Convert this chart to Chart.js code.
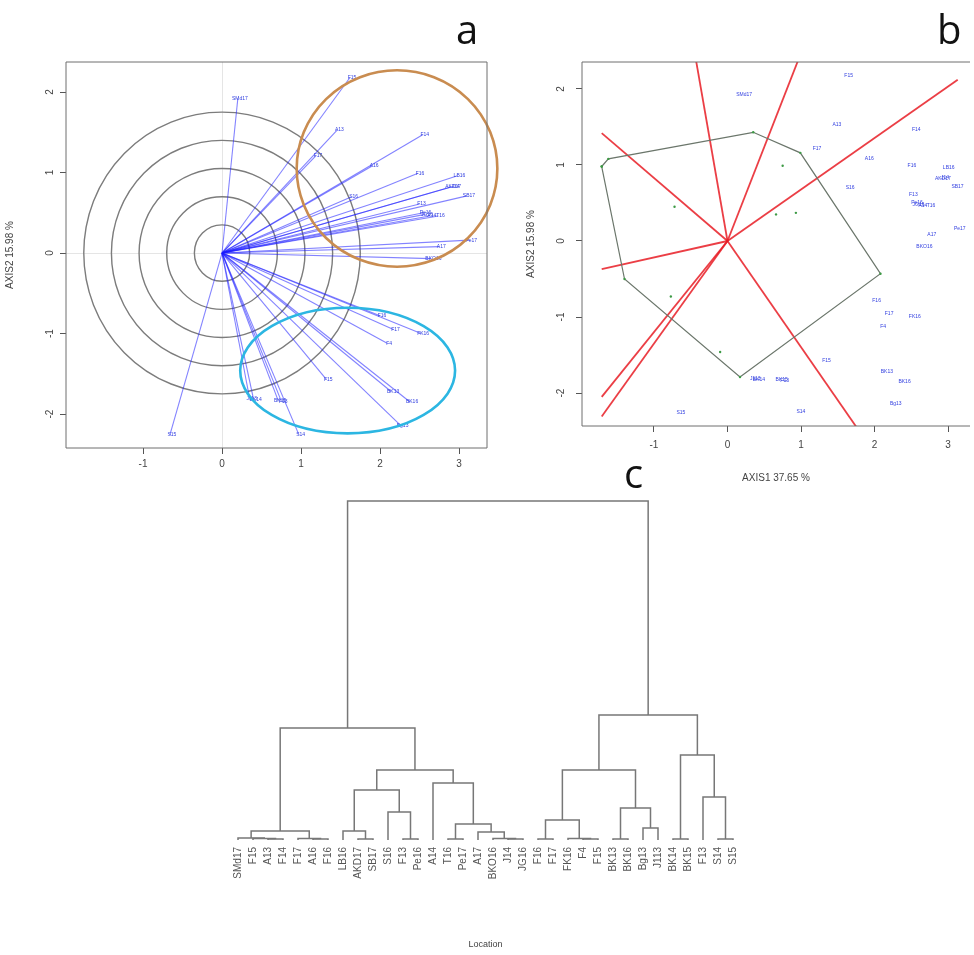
<!DOCTYPE html>
<html>
<head>
<meta charset="utf-8">
<script src="https://cdn.jsdelivr.net/npm/chart.js@4.4.1/dist/chart.umd.min.js"></script>
<style>
body { margin:0; background:#fff; width:974px; height:955px; position:relative; overflow:hidden; font-family:"Liberation Sans", Arial, sans-serif; }
canvas { position:absolute; }
.tag { position:absolute; font-family:"Open Sans", "Liberation Sans", sans-serif; font-size:40px; line-height:1; color:#111; }
</style>
</head>
<body>
<canvas id="pa" width="500" height="440" style="left:0;top:40px"></canvas>
<canvas id="pb" width="454" height="450" style="left:520px;top:40px"></canvas>
<canvas id="pc" width="570" height="465" style="left:200px;top:490px"></canvas>
<div class="tag" style="left:456px;top:9px">a</div>
<div class="tag" style="left:937px;top:9px">b</div>
<div class="tag" style="left:624px;top:453px">c</div>
<script>
// site scores on the two axes (panel a vectors, panel b labels)
const siteNames = ['SMd17','F15','A13','F14','F17','A16','F16','LB16','AKD17','SB17',
                   'S16','F13','Pe16','A14','T16','Pe17','A17','BKO16','J14','JG16',
                   'F16','F17','FK16','F4','F15','BK13','BK16','Bg13','J113','BK14',
                   'BK15','F13','S14','S15']
const axis1 = [0.20, 1.62, 1.46, 2.54, 1.19, 1.90, 2.48, 2.98, 2.90, 3.10,
               1.64, 2.50, 2.55, 2.63, 2.74, 3.13, 2.75, 2.65, 2.93, 2.57,
               2.00, 2.17, 2.52, 2.09, 1.32, 2.14, 2.38, 2.26, 0.35, 0.40,
               0.71, 0.75, 0.97, -0.66]
const axis2 = [1.92, 2.18, 1.53, 1.47, 1.21, 1.08, 0.99, 0.96, 0.82, 0.71,
               0.70, 0.61, 0.50, 0.46, 0.46, 0.16, 0.08, -0.07, 0.83, 0.48,
               -0.78, -0.95, -1.00, -1.12, -1.57, -1.72, -1.85, -2.14, -1.81, -1.82,
               -1.83, -1.84, -2.25, -2.26]

// panel b: variable scores (green), their hull and the red axes
const hullX = [-1.71, -1.62, 0.35, 0.99, 2.08, 0.17, -1.40, -1.71]
const hullY = [0.98, 1.08, 1.43, 1.16, -0.43, -1.79, -0.50, 0.98]
const greenX = [0.75, 0.93, 0.66, -0.77, -0.10, -0.72]
const greenY = [0.99, 0.37, 0.35, -0.73, -1.46, 0.45]
const redX = [-0.45, 1.01, 3.13, -1.71, -1.71, -1.71, -1.71, 1.79]
const redY = [2.50, 2.50, 2.12, 1.42, -0.37, -2.05, -2.31, -2.50]

const ringRadii = [0.35, 0.70, 1.05, 1.40, 1.75]
const ticksA = [-1, 0, 1, 2, 3]
const ticksAy = [-2, -1, 0, 1, 2]

// panel c: hclust style merge table, negative = leaf, positive = row (1-based)
const leafLabels = siteNames
const merges = [
  [-3, -4, 0.01], [-2, 1, 0.015], [-1, 2, 0.02], [-6, -7, 0.01], [-5, 4, 0.015],
  [3, 5, 0.09], [-9, -10, 0.01], [-8, 7, 0.09], [-12, -13, 0.01], [-11, 9, 0.28],
  [8, 10, 0.50], [-15, -16, 0.01], [-19, -20, 0.01], [-18, 13, 0.015], [-17, 14, 0.08],
  [12, 15, 0.16], [-14, 16, 0.57], [11, 17, 0.70], [6, 18, 1.12], [-21, -22, 0.01],
  [-24, -25, 0.01], [-23, 21, 0.015], [20, 22, 0.20], [-26, -27, 0.01], [-28, -29, 0.12],
  [24, 25, 0.32], [23, 26, 0.70], [-30, -31, 0.01], [-33, -34, 0.01], [-32, 29, 0.43],
  [28, 30, 0.85], [27, 31, 1.25], [19, 32, 3.39]
]

const textCol = '#444'
const tickFont = {family: 'Liberation Sans', size: 10}

const fixTicks = vals => s => { s.ticks = vals.map(v => ({value: v})) }

// frame around the plot area
const boxPlugin = sides => ({
  id: 'box',
  afterDraw(chart) {
    const {ctx, chartArea: a} = chart
    ctx.save()
    ctx.strokeStyle = '#6e6e6e'
    ctx.lineWidth = 1
    ctx.beginPath()
    ctx.moveTo(a.right, a.top); ctx.lineTo(a.left, a.top)
    ctx.lineTo(a.left, a.bottom); ctx.lineTo(a.right, a.bottom)
    if (sides === 4) ctx.lineTo(a.right, a.top)
    ctx.stroke()
    ctx.restore()
  }
})

// rotated y tick labels, R style
const yLabelPlugin = xPos => ({
  id: 'ylab',
  afterDraw(chart) {
    const {ctx, scales: {y}} = chart
    ctx.save()
    ctx.fillStyle = textCol
    ctx.font = '10px "Liberation Sans"'
    ctx.textAlign = 'center'
    ctx.textBaseline = 'middle'
    y.ticks.forEach(t => {
      ctx.save()
      ctx.translate(xPos, y.getPixelForValue(t.value))
      ctx.rotate(-Math.PI / 2)
      ctx.fillText(String(t.value), 0, 0)
      ctx.restore()
    })
    ctx.restore()
  }
})

const siteLabelPlugin = {
  id: 'sitelab',
  afterDatasetsDraw(chart) {
    const {ctx, scales: {x, y}} = chart
    ctx.save()
    ctx.fillStyle = '#3340e0'
    ctx.font = '5px "Liberation Sans"'
    ctx.textAlign = 'center'
    ctx.textBaseline = 'middle'
    siteNames.forEach((n, i) => {
      ctx.fillText(n, x.getPixelForValue(axis1[i]) + 2, y.getPixelForValue(axis2[i]))
    })
    ctx.restore()
  }
}

const ringPlugin = {
  id: 'rings',
  beforeDatasetsDraw(chart) {
    const {ctx, scales: {x, y}} = chart
    const cx = x.getPixelForValue(0), cy = y.getPixelForValue(0)
    ctx.save()
    ctx.strokeStyle = '#7c7c7c'
    ctx.lineWidth = 1.4
    ringRadii.forEach(r => {
      ctx.beginPath()
      ctx.ellipse(cx, cy, x.getPixelForValue(r) - cx, cy - y.getPixelForValue(r), 0, 0, Math.PI * 2)
      ctx.stroke()
    })
    ctx.restore()
  },
  afterDraw(chart) {
    //groups marked by hand on the figure
    const {ctx, scales: {x, y}} = chart
    const groups = [
      {cx: 2.215, cy: 1.05, rx: 1.27, ry: 1.22, color: '#c98c50'},
      {cx: 1.59, cy: -1.46, rx: 1.36, ry: 0.78, color: '#2cb6e2'}
    ]
    ctx.save()
    ctx.lineWidth = 2.6
    groups.forEach(g => {
      const px = x.getPixelForValue(g.cx), py = y.getPixelForValue(g.cy)
      ctx.strokeStyle = g.color
      ctx.beginPath()
      ctx.ellipse(px, py, x.getPixelForValue(g.cx + g.rx) - px, py - y.getPixelForValue(g.cy + g.ry), 0, 0, Math.PI * 2)
      ctx.stroke()
    })
    ctx.restore()
  }
}

const axisBase = (min, max, vals) => ({
  type: 'linear', min: min, max: max,
  afterBuildTicks: fixTicks(vals),
  border: {display: false},
  ticks: {color: textCol, font: tickFont}
})

const noFx = {animation: false, responsive: false, plugins: {legend: {display: false}, tooltip: {enabled: false}}}

// ---- panel a
var vecSets = axis1.map((v, i) => ({
  data: [{x: 0, y: 0}, {x: v, y: axis2[i]}],
  showLine: true, borderColor: 'rgba(30,30,255,0.55)', borderWidth: 1.1, pointRadius: 0
}))

var xa = axisBase(-1.975, 3.354, ticksA)
xa.afterFit = s => { s.height = 32 }
xa.grid = {color: c => (c.tick && c.tick.value === 0) ? 'rgba(0,0,0,0.10)' : 'rgba(0,0,0,0)', tickColor: '#555', tickLength: 6}
xa.ticks.padding = 4
var ya = axisBase(-2.422, 2.373, ticksAy)
ya.afterFit = s => { s.width = 66 }
ya.grid = {color: c => (c.tick && c.tick.value === 0) ? 'rgba(0,0,0,0.10)' : 'rgba(0,0,0,0)', tickColor: '#555', tickLength: 6}
ya.ticks = {display: false}
ya.title = {display: true, text: 'AXIS2 15.98 %', color: textCol, font: {family: 'Liberation Sans', size: 10}, padding: {top: 4, bottom: 0}}

new Chart(document.getElementById('pa'), {
  type: 'scatter',
  data: {datasets: vecSets},
  options: Object.assign({}, noFx, {
    layout: {padding: {top: 22, right: 13, left: 0, bottom: 0}},
    scales: {x: xa, y: ya}
  }),
  plugins: [ringPlugin, siteLabelPlugin, boxPlugin(4), yLabelPlugin(50)]
})

// ---- panel b
var redSets = redX.map((v, i) => ({
  data: [{x: 0, y: 0}, {x: v, y: redY[i]}],
  showLine: true, borderColor: 'rgba(232,28,36,0.85)', borderWidth: 1.8, pointRadius: 0
}))
var hullSet = {
  data: hullX.map((v, i) => ({x: v, y: hullY[i]})),
  showLine: true, borderColor: '#6b766b', borderWidth: 1.2, pointRadius: 1.2,
  pointBackgroundColor: '#3d9a45', pointBorderWidth: 0
}
var greenSet = {
  data: greenX.map((v, i) => ({x: v, y: greenY[i]})),
  pointRadius: 1.2, pointBackgroundColor: '#3d9a45', pointBorderWidth: 0
}

var xb = axisBase(-1.978, 3.297, ticksA)
xb.afterFit = s => { s.height = 64 }
xb.grid = {drawOnChartArea: false, tickColor: '#555', tickLength: 6}
xb.ticks.padding = 7
xb.title = {display: true, text: 'AXIS1 37.65 %', color: textCol, font: {family: 'Liberation Sans', size: 10}, padding: {top: 0, bottom: 6}}
var yb = axisBase(-2.434, 2.355, ticksAy)
yb.afterFit = s => { s.width = 62 }
yb.grid = {drawOnChartArea: false, tickColor: '#555', tickLength: 6}
yb.ticks = {display: false}
yb.title = {display: true, text: 'AXIS2 15.98 %', color: textCol, font: {family: 'Liberation Sans', size: 10}, padding: {top: 5, bottom: 0}}

new Chart(document.getElementById('pb'), {
  type: 'scatter',
  data: {datasets: [hullSet, greenSet].concat(redSets)},
  options: Object.assign({}, noFx, {
    layout: {padding: {top: 22, right: 0, left: 0, bottom: 0}},
    scales: {x: xb, y: yb}
  }),
  plugins: [siteLabelPlugin, boxPlugin(3), yLabelPlugin(41)]
})

// ---- panel c, dendrogram
var nodeX = [], nodeH = []
var pos = ref => ref < 0 ? {x: -ref - 1, h: 0} : {x: nodeX[ref - 1], h: nodeH[ref - 1]}
var dendroSets = merges.map(m => {
  var a = pos(m[0]), b = pos(m[1])
  nodeX.push((a.x + b.x) / 2)
  nodeH.push(m[2])
  return {
    data: [{x: a.x, y: a.h}, {x: a.x, y: m[2]}, {x: b.x, y: m[2]}, {x: b.x, y: b.h}],
    showLine: true, borderColor: '#777', borderWidth: 1.5, pointRadius: 0, clip: false
  }
})

new Chart(document.getElementById('pc'), {
  type: 'scatter',
  data: {datasets: dendroSets},
  options: Object.assign({}, noFx, {
    layout: {padding: {top: 11, right: 22, left: 23, bottom: 0}},
    scales: {
      x: {
        type: 'linear', min: -1, max: leafLabels.length,
        afterBuildTicks: fixTicks(leafLabels.map((_, i) => i)),
        afterFit: s => { s.height = 115 },
        grid: {display: false, drawTicks: false},
        border: {display: false},
        ticks: {autoSkip: false, minRotation: 90, maxRotation: 90, padding: 7, color: '#555',
                font: {family: 'Liberation Sans', size: 10}, callback: v => leafLabels[v]},
        title: {display: true, text: 'Location', color: textCol, font: {family: 'Liberation Sans', size: 9}, padding: {top: 0, bottom: 5}}
      },
      y: {type: 'linear', min: 0, max: 3.39, display: false}
    }
  })
})
</script>
</body>
</html>
